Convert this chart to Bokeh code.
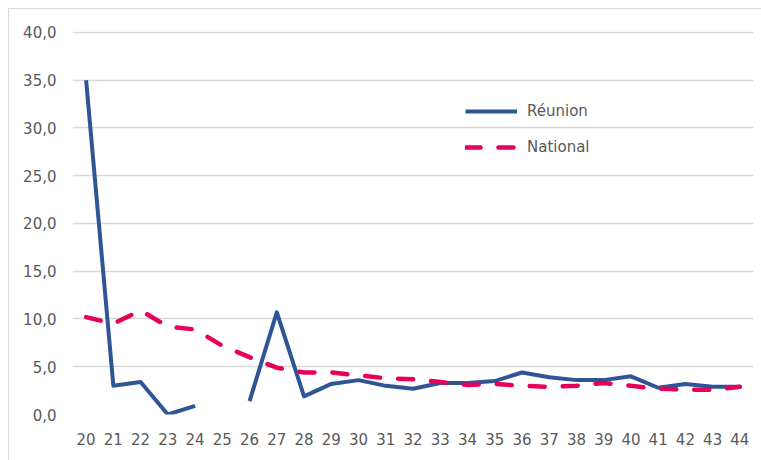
import numpy as np
from bokeh.plotting import figure
from bokeh.models import FactorRange, FixedTicker, Legend, LegendItem, ColumnDataSource
from bokeh.embed import file_html
from bokeh.resources import INLINE

categories = [str(v) for v in range(20, 45)]
reunion = [35.0, 3.0, 3.4, 0.0, 0.9, np.nan, 1.4, 10.7, 1.9, 3.2, 3.6, 3.0, 2.7,
           3.3, 3.3, 3.5, 4.4, 3.9, 3.6, 3.6, 4.0, 2.8, 3.2, 2.9, 2.9]
national = [10.2, 9.5, 10.9, 9.2, 8.9, 7.2, 6.0, 4.9, 4.4, 4.4, 4.1, 3.8, 3.7,
            3.4, 3.1, 3.2, 3.0, 2.9, 3.0, 3.3, 3.0, 2.7, 2.6, 2.6, 2.9]
y_ticks = [0, 5, 10, 15, 20, 25, 30, 35, 40]
y_tick_labels = ["0,0", "5,0", "10,0", "15,0", "20,0", "25,0", "30,0", "35,0", "40,0"]

FONT = "DejaVu Sans"
GREY = "#595959"

src = ColumnDataSource(dict(x=categories, reunion=reunion, national=national))

p = figure(width=753, height=452, x_range=FactorRange(*categories, range_padding=0),
           y_range=(0, 40.1), output_backend="svg", toolbar_location=None,
           min_border_left=63, min_border_right=9, min_border_top=22, min_border_bottom=47)
p.outline_line_color = None
p.background_fill_color = "white"
p.border_fill_color = "white"

p.xgrid.grid_line_color = None
p.ygrid.grid_line_color = "#d9d9d9"
p.ygrid.grid_line_width = 1.3

p.yaxis.ticker = FixedTicker(ticks=y_ticks)
p.yaxis.major_label_overrides = {t: l for t, l in zip(y_ticks, y_tick_labels)}
for ax in (p.xaxis[0], p.yaxis[0]):
    ax.axis_line_color = None
    ax.major_tick_line_color = None
    ax.minor_tick_line_color = None
    ax.major_tick_out = 0
    ax.major_tick_in = 0
    ax.major_label_text_font = FONT
    ax.major_label_text_font_size = "15px"
    ax.major_label_text_color = GREY
p.yaxis.major_label_standoff = 16
p.xaxis.major_label_standoff = 18
p.xaxis.group_text_font_size = "0px"

r1 = p.line("x", "reunion", source=src, line_color="#2F5597", line_width=4,
            line_join="round", line_cap="butt")
r2 = p.line("x", "national", source=src, line_color="#E6005A", line_width=4.5,
            line_dash="15 18", line_cap="round", line_join="round")

legend = Legend(items=[LegendItem(label="Réunion", renderers=[r1]),
                       LegendItem(label="National", renderers=[r2])],
                location=(393, 257), orientation="vertical")
legend.glyph_width = 52
legend.glyph_height = 20
legend.label_height = 20
legend.spacing = 16
legend.padding = 0
legend.margin = 0
legend.label_standoff = 10
legend.background_fill_alpha = 0
legend.border_line_color = None
legend.label_text_font = FONT
legend.label_text_font_size = "15px"
legend.label_text_color = GREY
p.add_layout(legend, "center")

p.styles = {"border-top": "1px solid #d9d9d9", "border-left": "1px solid #d9d9d9",
            "margin-left": "8px", "margin-top": "8px"}

open("out.html", "w").write(file_html(p, INLINE))
